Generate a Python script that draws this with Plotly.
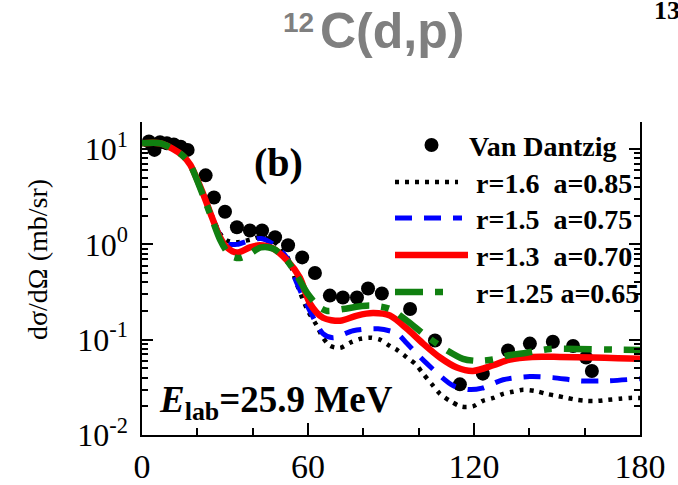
import plotly.graph_objects as go

# ---------------- data ----------------
theta_exp = [2.5, 4.5, 6.5, 9, 11.5, 14, 16.5, 23, 26, 30, 34.3, 39, 43.4, 48.1,
             52.8, 57.9, 62.5, 67.9, 72.6, 77.7, 81.7, 86.7, 96.9, 105.9, 114.9,
             123.2, 132.3, 140.2, 148.5, 155.8, 160.5, 162.6]
sigma_exp = [12, 9.8, 11.8, 11.5, 11.2, 10.6, 9.8, 5.3, 3.1, 2.2, 1.51, 1.40, 1.40,
             1.19, 0.98, 0.73, 0.50, 0.29, 0.277, 0.277, 0.344, 0.305, 0.21, 0.098,
             0.034, 0.044, 0.077, 0.091, 0.095, 0.086, 0.065, 0.047]

theta_r16 = [0, 6.5, 11, 15, 17.5, 22, 25.3, 28.2, 30.7, 34.3, 39, 43, 48, 52.4, 56,
             60, 63.2, 65.4, 68, 71.6, 75.2, 78.8, 82.4, 86, 89.6, 92.5, 95.8, 98.7,
             101.6, 104.8, 107.7, 111.3, 115.6, 119.6, 123.2, 127, 130.5, 134, 137.7,
             142, 146.3, 150, 153.6, 157, 160.8, 164.8, 168.4, 172.7, 176.4, 180]
sigma_r16 = [11.5, 11.5, 10.1, 8.4, 6.8, 3.5, 2.0, 1.3, 1.1, 1.05, 1.12, 1.2, 1.05, 0.75,
             0.38, 0.2, 0.14, 0.105, 0.086, 0.082, 0.093, 0.102, 0.105, 0.1, 0.086,
             0.077, 0.065, 0.056, 0.044, 0.034, 0.027, 0.0228, 0.0198, 0.0200, 0.0228,
             0.0245, 0.027, 0.0284, 0.0298, 0.029, 0.027, 0.0257, 0.0245, 0.0234,
             0.0228, 0.0228, 0.0234, 0.024, 0.0245, 0.0245]

theta_r15 = [0, 6.5, 11, 15, 17.5, 22, 25.3, 28.2, 30.7, 34.3, 39, 43, 47.5, 52.4, 56,
             60.7, 65.4, 69, 76.3, 85.3, 92.2, 95.8, 103, 112.4, 118, 122.9, 130.5,
             140.2, 148.5, 158.3, 168, 180]
sigma_r15 = [11.5, 11.5, 10.1, 8.4, 6.8, 3.45, 1.95, 1.25, 1.02, 1.0, 1.1, 1.15, 1.0,
             0.72, 0.39, 0.20, 0.116, 0.105, 0.124, 0.13, 0.116, 0.091, 0.056, 0.033,
             0.030, 0.031, 0.038, 0.041, 0.040, 0.037, 0.037, 0.039]

theta_r13 = [0, 6.5, 11, 15, 17.5, 22, 25.3, 28.2, 30.7, 34.3, 39, 42.6, 47.3, 52.4,
             57, 60.7, 65.4, 71.6, 77.7, 83.5, 89.6, 95.8, 101.6, 107.7, 113.8, 119.6,
             127, 133, 141, 151, 163, 172, 180]
sigma_r13 = [11.5, 11.5, 10.1, 8.4, 6.8, 3.44, 1.92, 1.19, 0.93, 0.82, 0.93, 0.98, 0.91,
             0.68, 0.45, 0.24, 0.17, 0.158, 0.179, 0.19, 0.179, 0.13, 0.091, 0.065,
             0.051, 0.047, 0.054, 0.062, 0.066, 0.066, 0.065, 0.064, 0.063]

theta_r125 = [0, 6.5, 11, 15, 17.5, 22, 25.3, 28.2, 30.7, 32.9, 35.4, 39, 43, 47.5, 52.4,
              56, 60, 64, 67, 72.6, 82.4, 89.6, 95.8, 101.6, 108.8, 116, 121, 127, 132,
              139, 147.5, 157, 171.7, 180]
sigma_r125 = [11.5, 11.5, 10.1, 8.4, 6.8, 3.3, 1.85, 1.12, 0.84, 0.74, 0.72, 0.80, 0.93,
              0.90, 0.68, 0.47, 0.30, 0.22, 0.20, 0.21, 0.228, 0.21, 0.158, 0.116, 0.082,
              0.063, 0.060, 0.062, 0.068, 0.073, 0.080, 0.080, 0.0785, 0.078]

legend_labels = ["Van Dantzig", "r=1.6\u00a0\u00a0a=0.85", "r=1.5\u00a0\u00a0a=0.75",
                 "r=1.3\u00a0\u00a0a=0.70", "r=1.25 a=0.65"]
x_tickvals = [0, 60, 120, 180]
x_ticktext = ["0", "60", "120", "180"]
y_tickvals = [0.01, 0.1, 1, 10]
y_ticktext = ["10<sup>-2</sup>", "10<sup>-1</sup>", "10<sup>0</sup>", "10<sup>1</sup>"]
y_minor = [m * 10 ** e for e in (-2, -1, 0, 1) for m in range(2, 10)]

# ---------------- layout helpers (pixel -> paper) ----------------
W, H = 678, 485
L, R, T, B = 142, 640, 122, 435


def px(x):
    return (x - L) / (R - L)


def py(y):
    return (B - y) / (B - T)


SERIF = "Liberation Serif, Times New Roman, serif"
SANS = "Liberation Sans, Arial, sans-serif"

fig = go.Figure()

fig.add_trace(go.Scatter(x=theta_exp, y=sigma_exp, mode="markers",
                         marker=dict(color="black", size=14), name=legend_labels[0]))
styles = [
    (theta_r16, sigma_r16, "black", 4.5, "4px,6px"),
    (theta_r15, sigma_r15, "#0000ff", 5, "17px,12px"),
    (theta_r13, sigma_r13, "#ff0000", 6.5, "solid"),
    (theta_r125, sigma_r125, "#108010", 6.5, "28px,12px,8px,12px"),
]
for (tx, ty, col, w, d), lab in zip(styles, legend_labels[1:]):
    fig.add_trace(go.Scatter(x=tx, y=ty, mode="lines", name=lab,
                             line=dict(color=col, width=w, dash=d, shape="spline",
                                       smoothing=0.8)))

shapes = []
annotations = []

# legend (drawn manually)
shapes.append(dict(type="circle", xref="paper", yref="paper",
                   x0=px(424.5), x1=px(438.5), y0=py(152), y1=py(138),
                   fillcolor="black", line=dict(width=0)))
annotations.append(dict(x=px(467), y=py(146), xref="paper", yref="paper",
                        text="<b>" + legend_labels[0] + "</b>", showarrow=False,
                        xanchor="left", yanchor="middle",
                        font=dict(family=SERIF, size=28, color="black")))
leg_rows = [(182, 458), (218, 462), (255, 468), (292, 453)]
for (yy, xend), (tx, ty, col, w, d), lab in zip(leg_rows, styles, legend_labels[1:]):
    shapes.append(dict(type="line", xref="paper", yref="paper",
                       x0=px(395), x1=px(xend), y0=py(yy), y1=py(yy),
                       line=dict(color=col, width=w, dash=d)))
    annotations.append(dict(x=px(474), y=py(yy + 1), xref="paper", yref="paper",
                            text="<b>" + lab + "</b>", showarrow=False, xanchor="left",
                            yanchor="middle",
                            font=dict(family=SERIF, size=28, color="black")))

# title
annotations.append(dict(x=px(318), y=py(31), xref="paper", yref="paper",
                        text="<b>C(d,p)</b>", showarrow=False, xanchor="left",
                        yanchor="middle", font=dict(family=SANS, size=50, color="#7f7f7f")))
annotations.append(dict(x=px(316), y=py(22), xref="paper", yref="paper",
                        text="<b>12</b>", showarrow=False, xanchor="right",
                        yanchor="middle", font=dict(family=SANS, size=28, color="#7f7f7f")))
# page fragment (cut at the right edge, as in the reference)
annotations.append(dict(x=px(652), y=py(11), xref="paper", yref="paper",
                        text="<b>13</b>", showarrow=False, xanchor="left",
                        yanchor="middle", font=dict(family=SERIF, size=26, color="black")))
# panel label
annotations.append(dict(x=px(278), y=py(162), xref="paper", yref="paper",
                        text="<b>(b)</b>", showarrow=False, xanchor="center",
                        yanchor="middle", font=dict(family=SERIF, size=40, color="black")))
# energy
annotations.append(dict(x=px(157), y=py(402), xref="paper", yref="paper",
                        text="<b><i>E</i><sub>lab</sub>=25.9 MeV</b>", showarrow=False,
                        xanchor="left", yanchor="middle",
                        font=dict(family=SERIF, size=37, color="black")))
# y title
annotations.append(dict(x=px(37), y=py(260), xref="paper", yref="paper",
                        text="d\u03c3/d\u03a9 (mb/sr)", showarrow=False, textangle=-90,
                        xanchor="center", yanchor="middle",
                        font=dict(family=SERIF, size=28, color="black")))

fig.update_layout(
    width=W, height=H,
    margin=dict(l=L, r=W - R, t=T, b=H - B, pad=0, autoexpand=False),
    paper_bgcolor="white", plot_bgcolor="white",
    showlegend=False, hovermode=False,
    shapes=shapes, annotations=annotations,
    xaxis=dict(range=[0, 180], tickmode="array", tickvals=x_tickvals, ticktext=x_ticktext,
               automargin=False,
               ticks="inside", ticklen=12, tickwidth=1.5, tickcolor="black",
               showline=True, linecolor="black", linewidth=1.5, showgrid=False,
               zeroline=False,
               minor=dict(tickmode="array", tickvals=list(range(20, 180, 20)),
                          ticks="inside", ticklen=7, tickwidth=1.5, tickcolor="black",
                          showgrid=False),
               tickfont=dict(family=SERIF, size=34, color="black")),
    xaxis2=dict(range=[0, 180], overlaying="x", side="top", anchor="y",
                automargin=False,
                tickmode="array", tickvals=x_tickvals, showticklabels=False,
                ticks="inside", ticklen=10, tickwidth=1.5, tickcolor="black",
                showline=False, showgrid=False, zeroline=False,
                minor=dict(tickmode="array", tickvals=list(range(20, 180, 20)),
                           ticks="inside", ticklen=6, tickwidth=1.5, tickcolor="black",
                           showgrid=False)),
    yaxis=dict(type="log", range=[-2, 1.284], tickmode="array", tickvals=y_tickvals,
               automargin=False, ticklabelstandoff=6,
               ticktext=y_ticktext, ticks="inside", ticklen=11, tickwidth=1.5,
               tickcolor="black", showline=True, linecolor="black", linewidth=1.5,
               mirror="ticks", showgrid=False, zeroline=False,
               minor=dict(tickmode="array", tickvals=y_minor, ticks="inside", ticklen=6,
                          tickwidth=1.5, tickcolor="black", showgrid=False),
               tickfont=dict(family=SERIF, size=32, color="black")),
)

fig.write_html("out.html", config={"displayModeBar": False},
               post_script="document.body.style.margin='0';")
